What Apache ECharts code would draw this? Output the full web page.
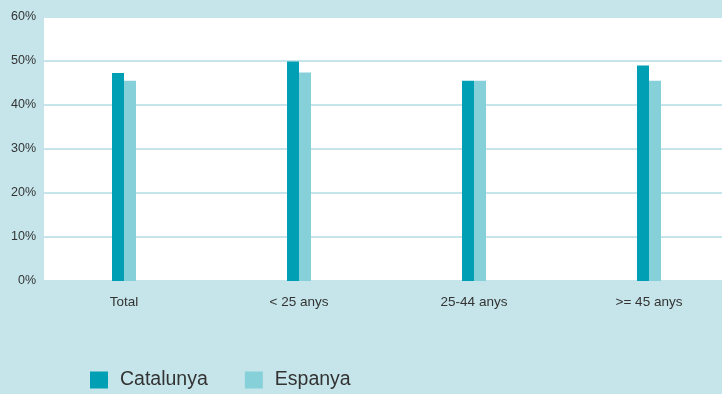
<!DOCTYPE html>
<html><head><meta charset="utf-8">
<script src="https://cdn.jsdelivr.net/npm/echarts@6/dist/echarts.min.js"></script>
<style>html,body{margin:0;padding:0;background:#c5e5ea;}#c{width:722px;height:394px;}</style>
</head><body><div id="c"></div>
<script>
var categories = ['Total', '< 25 anys', '25-44 anys', '>= 45 anys'];
var catalunya = [47.3, 49.9, 45.5, 49.0];
var espanya = [45.5, 47.4, 45.5, 45.5];
var yTicks = [0, 10, 20, 30, 40, 50, 60];

var font = '"Liberation Sans", Arial, sans-serif';
var chart = echarts.init(document.getElementById('c'));
chart.setOption({
  backgroundColor: '#c5e5ea',
  animation: false,
  grid: [
    {left: 44, right: 0, top: 17, bottom: 113, show: true, backgroundColor: '#ffffff', borderWidth: 0, outerBoundsMode: 'none'},
    {left: 36.5, width: 700, top: 17, bottom: 113, outerBoundsMode: 'none'}
  ],
  legend: {
    left: 90, top: 370, padding: 0, itemWidth: 18, itemHeight: 17, itemGap: 37,
    icon: 'rect',
    textStyle: {fontFamily: font, fontSize: 19.5, color: '#333', padding: [0, 0, 0, 7]},
    data: ['Catalunya', 'Espanya']
  },
  xAxis: [
    {gridIndex: 0, type: 'category', data: categories, show: false},
    {gridIndex: 1, type: 'category', data: categories, boundaryGap: true,
     axisLine: {show: false}, axisTick: {show: false},
     axisLabel: {fontFamily: font, fontSize: 13.5, color: '#333', margin: 14}}
  ],
  yAxis: [
    {gridIndex: 0, type: 'value', min: yTicks[0], max: yTicks[yTicks.length-1], interval: 10,
     axisLine: {show: false}, axisTick: {show: false},
     axisLabel: {fontFamily: font, fontSize: 12.5, color: '#333', margin: 8, formatter: '{value}%'},
     splitLine: {lineStyle: {color: '#c5e5ea', width: 2}}},
    {gridIndex: 1, type: 'value', min: 0, max: 60, show: false, splitLine: {show: false}}
  ],
  series: [
    {name: 'Catalunya', type: 'bar', xAxisIndex: 1, yAxisIndex: 1, data: catalunya,
     barWidth: 12, barGap: '0%', itemStyle: {color: '#009fb3'}},
    {name: 'Espanya', type: 'bar', xAxisIndex: 1, yAxisIndex: 1, data: espanya,
     barWidth: 12, barGap: '0%', itemStyle: {color: '#86d0d9'}}
  ]
});
</script></body></html>
